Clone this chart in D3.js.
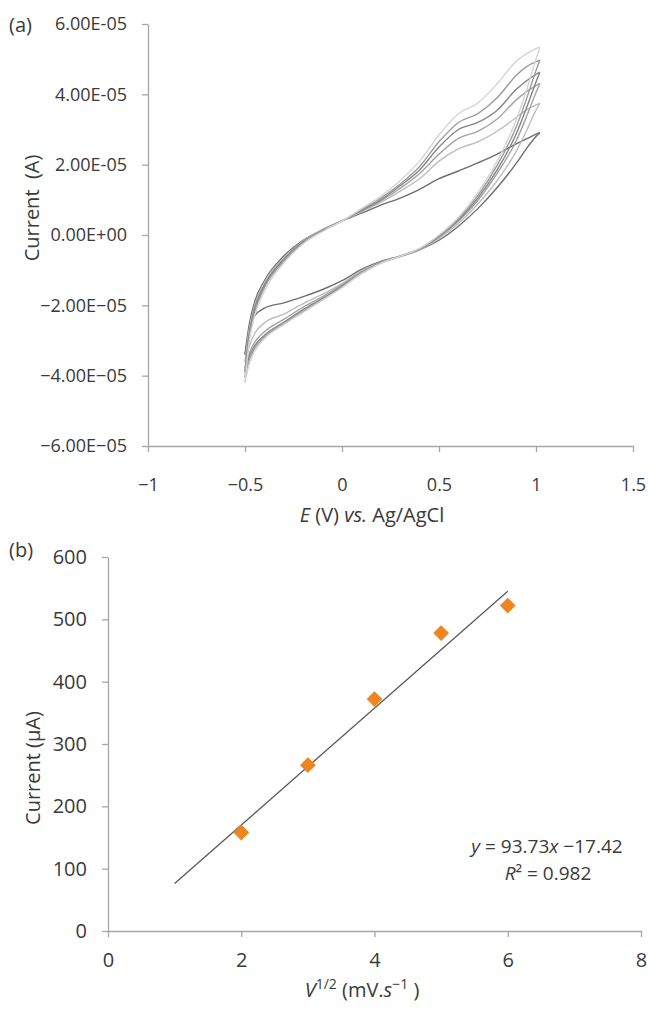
<!DOCTYPE html>
<html>
<head>
<meta charset="utf-8">
<script src="https://cdn.jsdelivr.net/npm/d3@7"></script>
<style>
  body { margin: 0; background: #fff; }
  text { font-family: "Open Sans", sans-serif; fill: #3a3a3a; }
  .axis path, .axis line { stroke: #a6a6a6; stroke-width: 1.3; }
</style>
</head>
<body>
<svg id="chart" width="648" height="1009"></svg>
<script>
// ---- (a) cyclic voltammograms, currents in units of 1e-5 A ----
var potentials = [-0.5, -0.48, -0.45, -0.4, -0.3, -0.2, -0.1, 0, 0.1, 0.2, 0.3, 0.4, 0.5, 0.6, 0.7, 0.8, 0.9, 0.95, 1.0, 1.02];

// anodic (upper) branches
var cvForward = [
  [-3.4, -2.6, -1.9, -1.3, -0.6, -0.15, 0.15, 0.4, 0.62, 0.85, 1.05, 1.3, 1.6, 1.82, 2.05, 2.3, 2.6, 2.73, 2.87, 2.91],
  [-3.6, -2.75, -2.0, -1.35, -0.65, -0.17, 0.15, 0.4, 0.66, 0.93, 1.25, 1.6, 2.1, 2.45, 2.65, 2.95, 3.35, 3.55, 3.7, 3.74],
  [-3.8, -2.85, -2.05, -1.4, -0.68, -0.18, 0.14, 0.4, 0.68, 0.97, 1.33, 1.75, 2.3, 2.75, 2.95, 3.3, 3.85, 4.07, 4.25, 4.31],
  [-3.9, -2.9, -2.1, -1.45, -0.7, -0.2, 0.13, 0.4, 0.7, 1.0, 1.4, 1.85, 2.5, 3.0, 3.2, 3.55, 4.15, 4.38, 4.57, 4.63],
  [-4.05, -3.0, -2.2, -1.5, -0.75, -0.22, 0.12, 0.4, 0.72, 1.05, 1.45, 1.95, 2.65, 3.2, 3.45, 3.9, 4.55, 4.78, 4.93, 4.97],
  [-4.2, -3.1, -2.3, -1.6, -0.8, -0.25, 0.1, 0.4, 0.75, 1.1, 1.55, 2.1, 2.85, 3.45, 3.75, 4.3, 4.95, 5.15, 5.3, 5.34]
];

// cathodic (lower) branches, same potentials
var cvReverse = [
  [-3.4, -2.75, -2.3, -2.08, -1.93, -1.75, -1.55, -1.3, -0.98, -0.75, -0.6, -0.42, -0.15, 0.25, 0.75, 1.35, 2.05, 2.45, 2.8, 2.91],
  [-3.6, -3.2, -2.8, -2.5, -2.25, -1.95, -1.68, -1.38, -1.02, -0.78, -0.62, -0.42, -0.1, 0.33, 0.88, 1.55, 2.4, 2.95, 3.55, 3.74],
  [-3.8, -3.4, -3.05, -2.75, -2.4, -2.05, -1.75, -1.42, -1.05, -0.78, -0.6, -0.4, -0.06, 0.4, 0.98, 1.75, 2.7, 3.35, 4.05, 4.31],
  [-3.9, -3.5, -3.15, -2.85, -2.48, -2.12, -1.8, -1.45, -1.08, -0.79, -0.6, -0.4, -0.04, 0.43, 1.05, 1.85, 2.9, 3.6, 4.35, 4.63],
  [-4.05, -3.6, -3.22, -2.9, -2.52, -2.17, -1.83, -1.48, -1.1, -0.8, -0.6, -0.39, -0.02, 0.47, 1.12, 1.98, 3.1, 3.85, 4.68, 4.97],
  [-4.2, -3.7, -3.3, -2.95, -2.55, -2.2, -1.85, -1.5, -1.1, -0.8, -0.6, -0.38, 0.0, 0.5, 1.2, 2.1, 3.3, 4.1, 5.0, 5.34]
];
var cvColors = ['#6f6f6f', '#bdbdbd', '#a3a3a3', '#858585', '#9c9c9c', '#d4d4d4'];

var xTicksA = [-1, -0.5, 0, 0.5, 1, 1.5];
var xTickLabelsA = ['\u22121', '\u22120.5', '0', '0.5', '1', '1.5'];
var yTicksA = [6e-5, 4e-5, 2e-5, 0, -2e-5, -4e-5, -6e-5];
var yTickLabelsA = ['6.00E-05', '4.00E-05', '2.00E-05', '0.00E+00', '\u22122.00E\u221205', '\u22124.00E\u221205', '\u22126.00E\u221205'];

// ---- (b) peak current vs square root of scan rate ----
var sqrtScanRate = [2, 3, 4, 5, 6];
var peakCurrent = [158, 266, 372, 478, 522];
var trendSlope = 93.73, trendIntercept = -17.42;
var trendRange = [1, 6];
var xTicksB = [0, 2, 4, 6, 8];
var yTicksB = [0, 100, 200, 300, 400, 500, 600];

var svg = d3.select('#chart');

// ===== panel (a) =====
var xA = d3.scaleLinear().domain([-1, 1.5]).range([148, 633]);
var yA = d3.scaleLinear().domain([-6e-5, 6e-5]).range([446, 24]);

svg.append('g').attr('class', 'axis ax').attr('transform', 'translate(0,446)')
  .call(d3.axisBottom(xA).tickValues(xTicksA).tickSize(6).tickSizeOuter(0).tickPadding(26)
    .tickFormat(function (d, i) { return xTickLabelsA[i]; }));
svg.append('g').attr('class', 'axis ay').attr('transform', 'translate(148,0)')
  .call(d3.axisLeft(yA).tickValues(yTicksA).tickSize(6).tickSizeOuter(0).tickPadding(15)
    .tickFormat(function (d, i) { return yTickLabelsA[i]; }));
svg.selectAll('.ax text, .ay text').style('font-size', '18px').style('fill', '#3a3a3a')
  .style('font-family', '"Open Sans", sans-serif');

var lineA = d3.line()
  .x(function (d) { return xA(d[0]); })
  .y(function (d) { return yA(d[1] * 1e-5); })
  .curve(d3.curveMonotoneX);

var loops = svg.append('g');
cvForward.forEach(function (fwd, k) {
  [fwd, cvReverse[k]].forEach(function (branch) {
    loops.append('path')
      .datum(potentials.map(function (e, i) { return [e, branch[i]]; }))
      .attr('d', lineA)
      .attr('fill', 'none')
      .attr('stroke', cvColors[k])
      .attr('stroke-width', 1.4);
  });
});

svg.append('text').attr('x', 9).attr('y', 32).style('font-size', '20px').text('(a)');

svg.append('text')
  .attr('transform', 'translate(39,208) rotate(-90)')
  .attr('text-anchor', 'middle')
  .style('font-size', '20px').style('white-space', 'pre')
  .text('Current  (A)');

var tA = svg.append('text').attr('x', 372).attr('y', 522).attr('text-anchor', 'middle').style('font-size', '20px');
tA.append('tspan').style('font-style', 'italic').text('E');
tA.append('tspan').text(' (V) ');
tA.append('tspan').style('font-style', 'italic').text('vs.');
tA.append('tspan').text(' Ag/AgCl');

// ===== panel (b) =====
var xB = d3.scaleLinear().domain([0, 8]).range([108, 641]);
var yB = d3.scaleLinear().domain([0, 600]).range([931, 557]);

svg.append('g').attr('class', 'axis bx').attr('transform', 'translate(0,931)')
  .call(d3.axisBottom(xB).tickValues(xTicksB).tickSize(6).tickSizeOuter(0).tickPadding(16));
svg.append('g').attr('class', 'axis by').attr('transform', 'translate(108,0)')
  .call(d3.axisLeft(yB).tickValues(yTicksB).tickSize(6).tickSizeOuter(0).tickPadding(15));
svg.selectAll('.bx text, .by text').style('font-size', '20px').style('fill', '#3a3a3a')
  .style('font-family', '"Open Sans", sans-serif');

// trendline
svg.append('line')
  .attr('x1', xB(trendRange[0])).attr('y1', yB(trendSlope * trendRange[0] + trendIntercept))
  .attr('x2', xB(trendRange[1])).attr('y2', yB(trendSlope * trendRange[1] + trendIntercept))
  .attr('stroke', '#595959').attr('stroke-width', 1.3);

// diamonds
var diamond = d3.symbol().type(d3.symbolSquare).size(125);
svg.append('g').selectAll('path')
  .data(sqrtScanRate)
  .enter().append('path')
  .attr('d', diamond)
  .attr('transform', function (d, i) { return 'translate(' + xB(d) + ',' + yB(peakCurrent[i]) + ') rotate(45)'; })
  .attr('fill', '#f0841f');

svg.append('text').attr('x', 9).attr('y', 557).style('font-size', '20px').text('(b)');

svg.append('text')
  .attr('transform', 'translate(40,768) rotate(-90)')
  .attr('text-anchor', 'middle')
  .style('font-size', '20px')
  .text('Current (\u00b5A)');

var tB = svg.append('text').attr('x', 362).attr('y', 997).attr('text-anchor', 'middle').style('font-size', '20px');
tB.append('tspan').style('font-style', 'italic').text('V');
tB.append('tspan').attr('dy', -8).style('font-size', '14px').text('1/2');
tB.append('tspan').attr('dy', 8).text(' (mV.');
tB.append('tspan').style('font-style', 'italic').text('s');
tB.append('tspan').attr('dy', -8).style('font-size', '14px').text('\u22121');
tB.append('tspan').attr('dy', 8).text(' )');

// regression equation
var eq1 = svg.append('text').attr('x', 547).attr('y', 853).attr('text-anchor', 'middle').style('font-size', '19px');
eq1.append('tspan').style('font-style', 'italic').text('y');
eq1.append('tspan').text(' = 93.73');
eq1.append('tspan').style('font-style', 'italic').text('x');
eq1.append('tspan').text(' \u221217.42');

var eq2 = svg.append('text').attr('x', 548).attr('y', 880).attr('text-anchor', 'middle').style('font-size', '19px');
eq2.append('tspan').style('font-style', 'italic').text('R');
eq2.append('tspan').text('\u00b2 = 0.982');
</script>
</body>
</html>
